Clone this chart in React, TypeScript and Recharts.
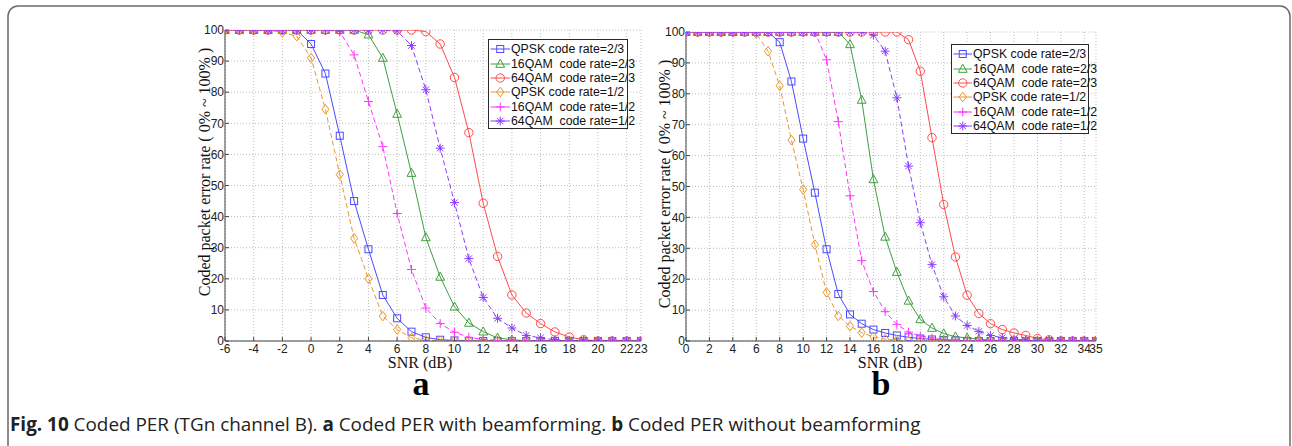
import React from 'react';
import { LineChart, Line, XAxis, YAxis, CartesianGrid, Legend } from 'recharts';

// ---------- data ----------
const snrA = [-6, -5, -4, -3, -2, -1, 0, 1, 2, 3, 4, 5, 6, 7, 8, 9, 10, 11, 12, 13, 14, 15, 16, 17, 18, 19, 20, 21, 22, 23];
const ticksA = [-6, -4, -2, 0, 2, 4, 6, 8, 10, 12, 14, 16, 18, 20, 22, 23];

const qpsk23A = [100, 100, 100, 100, 100, 100, 95.5, 86, 66, 45, 29.5, 14.8, 7.3, 3.0, 1.2, 0.4, 0.2, 0, 0, 0, 0, 0, 0, 0, 0, 0, 0, 0, 0, 0];
const qam16_23A = [100, 100, 100, 100, 100, 100, 100, 100, 100, 100, 98.5, 91, 73, 54, 33.3, 20.6, 11, 5.8, 3.0, 1.0, 0.4, 0.1, 0, 0, 0, 0, 0, 0, 0, 0];
const qam64_23A = [100, 100, 100, 100, 100, 100, 100, 100, 100, 100, 100, 100, 100, 100, 99.5, 95.5, 84.7, 67, 44.3, 27.2, 14.8, 9.0, 5.6, 2.9, 1.3, 0.4, 0, 0, 0, 0];
const qpsk12A = [100, 100, 100, 100, 99.2, 98, 91, 74.5, 53.5, 33, 20, 8, 3.7, 1.0, 0.3, 0, 0, 0, 0, 0, 0, 0, 0, 0, 0, 0, 0, 0, 0, 0];
const qam16_12A = [100, 100, 100, 100, 100, 100, 100, 100, 99.5, 92, 77, 62.5, 41, 23, 10.6, 5.6, 2.8, 1.2, 0.5, 0.2, 0, 0, 0, 0, 0, 0, 0, 0, 0, 0];
const qam64_12A = [100, 100, 100, 100, 100, 100, 100, 100, 100, 100, 100, 100, 99.7, 95, 80.8, 62, 44.5, 26.5, 14, 7.3, 4.2, 1.8, 1.0, 0.4, 0, 0, 0, 0, 0, 0];

const snrB = [0, 1, 2, 3, 4, 5, 6, 7, 8, 9, 10, 11, 12, 13, 14, 15, 16, 17, 18, 19, 20, 21, 22, 23, 24, 25, 26, 27, 28, 29, 30, 31, 32, 33, 34, 35];
const ticksB = [0, 2, 4, 6, 8, 10, 12, 14, 16, 18, 20, 22, 24, 26, 28, 30, 32, 34, 35];

const qpsk23B = [100, 100, 100, 100, 100, 100, 100, 100, 96.7, 84, 65.5, 48, 29.7, 15.2, 8.6, 5.6, 3.7, 2.6, 1.8, 1.2, 0.8, 0.5, 0.3, 0.2, 0, 0, 0, 0, 0, 0, 0, 0, 0, 0, 0, 0];
const qam16_23B = [100, 100, 100, 100, 100, 100, 100, 100, 100, 100, 100, 100, 100, 100, 96, 78, 52.3, 33.7, 22.3, 13, 7, 4.2, 2.4, 1.4, 1.0, 0.6, 0.3, 0.1, 0, 0, 0, 0, 0, 0, 0, 0];
const qam64_23B = [100, 100, 100, 100, 100, 100, 100, 100, 100, 100, 100, 100, 100, 100, 100, 100, 100, 100, 100, 97.5, 87.3, 65.8, 44.2, 27.2, 14.8, 8.9, 5.6, 3.7, 2.6, 1.8, 0.8, 0.4, 0, 0, 0, 0];
const qpsk12B = [100, 100, 100, 100, 100, 100, 99.5, 93.8, 82.6, 65, 49, 31.2, 15.7, 8.1, 4.8, 2.7, 1.3, 0.6, 0.3, 0, 0, 0, 0, 0, 0, 0, 0, 0, 0, 0, 0, 0, 0, 0, 0, 0];
const qam16_12B = [100, 100, 100, 100, 100, 100, 100, 100, 100, 100, 100, 100, 91, 71, 47, 26, 16, 9.5, 5.4, 2.9, 1.6, 1.0, 0.5, 0.3, 0, 0, 0, 0, 0, 0, 0, 0, 0, 0, 0, 0];
const qam64_12B = [100, 100, 100, 100, 100, 100, 100, 100, 100, 100, 100, 100, 100, 100, 100, 100, 99, 93.8, 78.7, 56.6, 38.3, 24.7, 14.3, 8.1, 5.0, 3.1, 1.8, 1.1, 0.6, 0.3, 0, 0, 0, 0, 0, 0];

const yTicks = [0, 10, 20, 30, 40, 50, 60, 70, 80, 90, 100];

const seriesKeys = ['qpsk23', 'qam16_23', 'qam64_23', 'qpsk12', 'qam16_12', 'qam64_12'];
const seriesNames = ['QPSK code rate=2/3', '16QAM  code rate=2/3', '64QAM  code rate=2/3', 'QPSK code rate=1/2', '16QAM  code rate=1/2', '64QAM  code rate=1/2'];
const seriesColors = ['#4b4bff', '#3fa03f', '#ff4a4a', '#e8962f', '#ff33ff', '#8a3dff'];
const seriesMarkers = ['square', 'triangle', 'circle', 'diamond', 'plus', 'asterisk'];
const seriesDashed = [false, false, false, true, true, true];

const rowsA = snrA.map((s, i) => ({
  snr: s, qpsk23: qpsk23A[i], qam16_23: qam16_23A[i], qam64_23: qam64_23A[i],
  qpsk12: qpsk12A[i], qam16_12: qam16_12A[i], qam64_12: qam64_12A[i],
}));
const rowsB = snrB.map((s, i) => ({
  snr: s, qpsk23: qpsk23B[i], qam16_23: qam16_23B[i], qam64_23: qam64_23B[i],
  qpsk12: qpsk12B[i], qam16_12: qam16_12B[i], qam64_12: qam64_12B[i],
}));

const SANS = '"Liberation Sans", Arial, Helvetica, sans-serif';
const SERIF = '"Liberation Serif", "Times New Roman", serif';

function Marker({ shape, cx, cy, color }: { shape: string; cx: number; cy: number; color: string }) {
  const common = { fill: 'none', stroke: color, strokeWidth: 1 };
  switch (shape) {
    case 'square':
      return <rect x={cx - 3.5} y={cy - 3.5} width={7} height={7} {...common} />;
    case 'circle':
      return <circle cx={cx} cy={cy} r={4.2} {...common} />;
    case 'triangle':
      return <polygon points={`${cx},${cy - 4.8} ${cx - 4.4},${cy + 3.3} ${cx + 4.4},${cy + 3.3}`} {...common} />;
    case 'diamond':
      return <polygon points={`${cx},${cy - 4.8} ${cx + 3.6},${cy} ${cx},${cy + 4.8} ${cx - 3.6},${cy}`} {...common} />;
    case 'plus':
      return <path d={`M${cx - 4.5},${cy} H${cx + 4.5} M${cx},${cy - 4.5} V${cy + 4.5}`} {...common} />;
    case 'asterisk':
    default:
      return (
        <path
          d={`M${cx - 4.5},${cy} H${cx + 4.5} M${cx},${cy - 4.5} V${cy + 4.5} M${cx - 3.2},${cy - 3.2} L${cx + 3.2},${cy + 3.2} M${cx - 3.2},${cy + 3.2} L${cx + 3.2},${cy - 3.2}`}
          {...common}
        />
      );
  }
}

const makeDot = (i: number) => (props: any) => {
  const { cx, cy, index } = props;
  if (cx == null || cy == null) return <g key={`${seriesKeys[i]}-${index}`} />;
  return (
    <g key={`${seriesKeys[i]}-${index}`}>
      <Marker shape={seriesMarkers[i]} cx={cx} cy={cy} color={seriesColors[i]} />
    </g>
  );
};

const makeLegend = (w: number, textLeft: number) => () => (
  <div
    style={{
      width: w,
      height: 90,
      boxSizing: 'border-box',
      border: '1.4px solid #2a2a2a',
      background: '#fff',
      paddingTop: 2,
    }}
  >
    {seriesNames.map((n, i) => (
      <div key={n} style={{ display: 'flex', alignItems: 'center', height: 14.4 }}>
        <svg width={textLeft} height={14} style={{ flex: 'none' }}>
          <line x1={1.5} x2={textLeft - 1} y1={7} y2={7} stroke={seriesColors[i]} strokeWidth={1} />
          <Marker shape={seriesMarkers[i]} cx={(textLeft + 0.5) / 2} cy={7} color={seriesColors[i]} />
        </svg>
        <span style={{ whiteSpace: 'pre', fontFamily: SANS, fontSize: 12.3, color: '#111', lineHeight: '14px' }}>{n}</span>
      </div>
    ))}
  </div>
);

const axisStroke = '#444';
const tickStyle = { fontSize: 12, fill: '#222', fontFamily: SANS };

function PerChart({ rows, domain, ticks, width, marginTop, legendLeft, legendTop, legendWidth, legendTextLeft }: any) {
  return (
    <LineChart width={width} height={371} data={rows} margin={{ top: marginTop, right: 10, bottom: 5, left: 0 }}>
      <CartesianGrid stroke="#bdbdbd" strokeDasharray="1 2" strokeWidth={1} />
      <XAxis
        dataKey="snr"
        type="number"
        domain={domain}
        ticks={ticks}
        interval={0}
        allowDataOverflow
        height={25}
        tickSize={-4}
        tickMargin={7}
        axisLine={{ stroke: axisStroke }}
        tickLine={{ stroke: axisStroke }}
        tick={tickStyle}
      />
      <XAxis
        xAxisId="top"
        orientation="top"
        type="number"
        domain={domain}
        ticks={ticks}
        interval={0}
        allowDataOverflow
        height={0}
        tickSize={-4}
        tickFormatter={() => ''}
        axisLine={{ stroke: axisStroke }}
        tickLine={{ stroke: axisStroke }}
      />
      <YAxis
        type="number"
        domain={[0, 100]}
        ticks={yTicks}
        interval={0}
        allowDataOverflow
        width={75}
        tickSize={-4}
        tickMargin={5}
        axisLine={{ stroke: axisStroke }}
        tickLine={{ stroke: axisStroke }}
        tick={tickStyle}
      />
      <YAxis
        yAxisId="right"
        orientation="right"
        type="number"
        domain={[0, 100]}
        ticks={yTicks}
        interval={0}
        allowDataOverflow
        width={0}
        tickSize={-4}
        tickFormatter={() => ''}
        axisLine={{ stroke: axisStroke }}
        tickLine={{ stroke: axisStroke }}
      />
      <Legend
        layout="vertical"
        align="center"
        verticalAlign="middle"
        content={makeLegend(legendWidth, legendTextLeft)}
        wrapperStyle={{ position: 'absolute', left: legendLeft, top: legendTop, width: legendWidth, height: 90 }}
      />
      {seriesKeys.map((k, i) => (
        <Line
          key={k}
          type="linear"
          dataKey={k}
          name={seriesNames[i]}
          stroke={seriesColors[i]}
          strokeWidth={1}
          strokeDasharray={seriesDashed[i] ? '5 3' : undefined}
          dot={makeDot(i)}
          activeDot={false}
          isAnimationActive={false}
        />
      ))}
    </LineChart>
  );
}

export default function App() {
  return (
    <div style={{ position: 'absolute', left: 0, top: 0, width: 1292, height: 446, overflow: 'hidden', background: '#fff' }}>
      <svg width={1292} height={446} style={{ position: 'absolute', left: 0, top: 0 }}>
        <rect x={8} y={6} width={1282} height={470} rx={10} ry={10} fill="none" stroke="#6a6a6a" strokeWidth={1.5} />
        <text
          transform="translate(204,172) rotate(-90)"
          textAnchor="middle"
          dominantBaseline="central"
          fontFamily={SERIF}
          fontSize={16}
          fill="#111"
        >
          Coded packet error rate ( 0% ~ 100% )
        </text>
        <text
          transform="translate(664,184) rotate(-90)"
          textAnchor="middle"
          dominantBaseline="central"
          fontFamily={SERIF}
          fontSize={16}
          fill="#111"
        >
          Coded packet error rate ( 0% ~ 100% )
        </text>
        <text x={420} y={368} textAnchor="middle" fontFamily={SERIF} fontSize={16} fill="#111">SNR (dB)</text>
        <text x={890} y={368} textAnchor="middle" fontFamily={SERIF} fontSize={16} fill="#111">SNR (dB)</text>
        <text x={421} y={395} textAnchor="middle" fontFamily={SERIF} fontSize={34} fontWeight="bold" fill="#000">a</text>
        <text x={881} y={395} textAnchor="middle" fontFamily={SERIF} fontSize={34} fontWeight="bold" fill="#000">b</text>
        <text x={10} y={431} fontFamily='"Open Sans", "Noto Sans", sans-serif' fontSize={18.9} fill="#222" xmlSpace="preserve">
          <tspan fontWeight="bold">Fig. 10</tspan> Coded PER (TGn channel B). <tspan fontWeight="bold">a</tspan> Coded PER with beamforming. <tspan fontWeight="bold">b</tspan> Coded PER without beamforming
        </text>
      </svg>
      <div style={{ position: 'absolute', left: 150, top: 0 }}>
        <PerChart rows={rowsA} domain={[-6, 23]} ticks={ticksA} width={501} marginTop={30} legendLeft={338} legendTop={39} legendWidth={140} legendTextLeft={22} />
      </div>
      <div style={{ position: 'absolute', left: 611, top: 0 }}>
        <PerChart rows={rowsB} domain={[0, 35]} ticks={ticksB} width={495} marginTop={32} legendLeft={340} legendTop={44} legendWidth={138} legendTextLeft={21} />
      </div>
    </div>
  );
}
